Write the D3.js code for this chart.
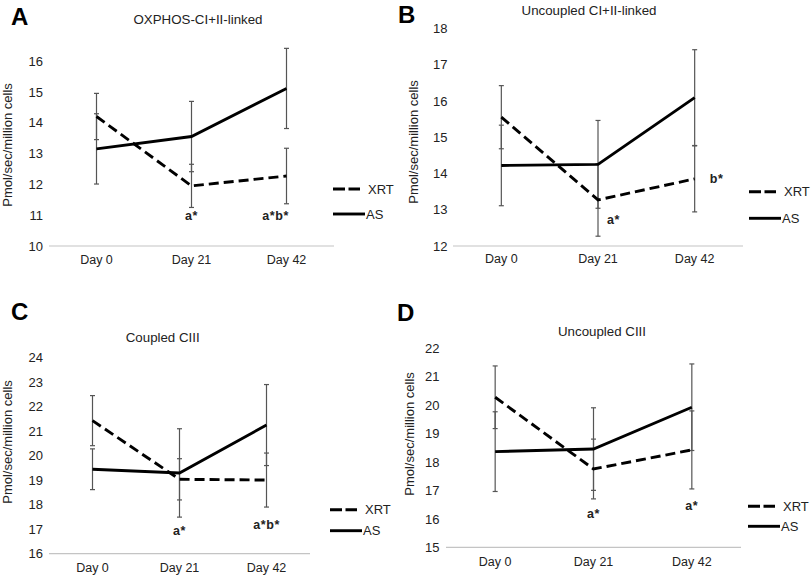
<!DOCTYPE html>
<html>
<head>
<meta charset="utf-8">
<script src="https://cdn.jsdelivr.net/npm/d3@7"></script>
<style>
  body { margin: 0; background: #fff; }
  svg { display: block; font-family: "Liberation Sans", Arial, sans-serif; }
</style>
</head>
<body>
<svg id="chart" width="812" height="576"></svg>
<script>
var days = ['Day 0', 'Day 21', 'Day 42'];

// panel A - OXPHOS CI+II
var xrtA = [14.2, 11.95, 12.27];
var xrtAErr = [0.75, 0.7, 0.9];
var asA = [13.15, 13.55, 15.11];
var asAErr = [1.14, 1.14, 1.3];

// panel B - uncoupled CI+II
var xrtB = [15.55, 13.27, 13.85];
var xrtBErr = [0.87, 1.0, 0.91];
var asB = [14.22, 14.25, 16.09];
var asBErr = [1.11, 1.21, 1.32];

// panel C - coupled CIII
var xrtC = [21.42, 19.03, 19.0];
var xrtCErr = [1.02, 0.84, 1.1];
var asC = [19.44, 19.29, 21.24];
var asCErr = [0.83, 1.8, 1.65];

// panel D - uncoupled CIII
var xrtD = [20.27, 17.75, 18.42];
var xrtDErr = [1.1, 1.05, 1.37];
var asD = [18.36, 18.45, 19.92];
var asDErr = [1.4, 1.45, 1.52];

var titles = ['OXPHOS-CI+II-linked', 'Uncoupled CI+II-linked', 'Coupled CIII', 'Uncoupled CIII'];
var letters = ['A', 'B', 'C', 'D'];
var yDomains = [[10, 16], [12, 18], [16, 24], [15, 22]];
var seriesNames = ['XRT', 'AS'];

// significance marks: day, value level, label
var notesA = [{day: 'Day 21', v: 11.0, t: 'a*'}, {day: 'Day 42', v: 11.0, t: 'a*b*'}];
var notesB = [{day: 'Day 21', v: 12.72, t: 'a*'}, {day: 'Day 42', v: 13.86, t: 'b*'}];
var notesC = [{day: 'Day 21', v: 16.94, t: 'a*'}, {day: 'Day 42', v: 17.17, t: 'a*b*'}];
var notesD = [{day: 'Day 21', v: 16.17, t: 'a*'}, {day: 'Day 42', v: 16.46, t: 'a*'}];

var panels = [
    {xrt: xrtA, xrtErr: xrtAErr, as: asA, asErr: asAErr, notes: notesA,
     x0: 49, x1: 334, yBot: 246, yTop: 61, tickX: 43, dayY: 264,
     ylab: [7, 145], title: [198, 23.5], letter: [11, 25],
     legX: 333, legY: [189, 214], noteDx: [0, -11]},
    {xrt: xrtB, xrtErr: xrtBErr, as: asB, asErr: asBErr, notes: notesB,
     x0: 453, x1: 743, yBot: 246, yTop: 28.3, tickX: 447.5, dayY: 262.5,
     ylab: [413, 142], title: [589, 15], letter: [398, 22.5],
     legX: 749, legY: [191.7, 218.3], noteDx: [16, 22]},
    {xrt: xrtC, xrtErr: xrtCErr, as: asC, asErr: asCErr, notes: notesC,
     x0: 49, x1: 310, yBot: 553.7, yTop: 357.3, tickX: 43, dayY: 572,
     ylab: [7, 442], title: [162.7, 341.5], letter: [11, 320],
     legX: 330, legY: [509.7, 530.7], noteDx: [0, 0]},
    {xrt: xrtD, xrtErr: xrtDErr, as: asD, asErr: asDErr, notes: notesD,
     x0: 446, x1: 741, yBot: 547.3, yTop: 348, tickX: 439.5, dayY: 565.5,
     ylab: [409, 434], title: [602, 335.5], letter: [397, 321],
     legX: 748, legY: [506.3, 526.3], noteDx: [0, 0]}
];

var svg = d3.select('#chart');

panels.forEach(function(p, i) {
    var g = svg.append('g');
    var x = d3.scalePoint().domain(days).range([p.x0, p.x1]).padding(0.5);
    var y = d3.scaleLinear().domain(yDomains[i]).range([p.yBot, p.yTop]);

    // baseline
    g.append('line')
        .attr('x1', p.x0).attr('x2', p.x1)
        .attr('y1', p.yBot).attr('y2', p.yBot)
        .attr('stroke', '#c4c4c4').attr('stroke-width', 1.2);

    // y tick labels
    g.selectAll('.ytick').data(y.ticks(yDomains[i][1] - yDomains[i][0]))
        .enter().append('text')
        .attr('x', p.tickX).attr('y', function(d) { return y(d); })
        .attr('dy', '0.36em')
        .attr('text-anchor', 'end')
        .attr('font-size', 13).attr('fill', '#222')
        .text(function(d) { return d; });

    // x labels
    g.selectAll('.xtick').data(days)
        .enter().append('text')
        .attr('x', function(d) { return x(d); }).attr('y', p.dayY)
        .attr('text-anchor', 'middle')
        .attr('font-size', 12.5).attr('fill', '#222')
        .text(function(d) { return d; });

    g.append('text')
        .attr('transform', 'translate(' + p.ylab[0] + ',' + p.ylab[1] + ') rotate(-90)')
        .attr('dy', '0.36em')
        .attr('text-anchor', 'middle')
        .attr('font-size', 13).attr('fill', '#222')
        .text('Pmol/sec/million cells');

    g.append('text')
        .attr('x', p.title[0]).attr('y', p.title[1])
        .attr('text-anchor', 'middle')
        .attr('font-size', 13.3).attr('fill', '#222')
        .text(titles[i]);

    g.append('text')
        .attr('x', p.letter[0]).attr('y', p.letter[1])
        .attr('font-size', 24).attr('font-weight', 'bold').attr('fill', '#000')
        .text(letters[i]);

    var series = [
        {vals: p.xrt, err: p.xrtErr, dash: '10,5'},
        {vals: p.as, err: p.asErr, dash: null}
    ];

    // error bars under the lines
    series.forEach(function(s) {
        days.forEach(function(d, k) {
            var cx = x(d), lo = y(s.vals[k] - s.err[k]), hi = y(s.vals[k] + s.err[k]);
            g.append('line').attr('x1', cx).attr('x2', cx).attr('y1', lo).attr('y2', hi)
                .attr('stroke', '#555').attr('stroke-width', 1.2);
            [lo, hi].forEach(function(yy) {
                g.append('line').attr('x1', cx - 2.5).attr('x2', cx + 2.5)
                    .attr('y1', yy).attr('y2', yy)
                    .attr('stroke', '#555').attr('stroke-width', 1.2);
            });
        });
    });

    var line = d3.line()
        .x(function(d, k) { return x(days[k]); })
        .y(function(d) { return y(d); });

    series.forEach(function(s) {
        g.append('path').datum(s.vals)
            .attr('d', line)
            .attr('fill', 'none').attr('stroke', '#000')
            .attr('stroke-width', 2.9)
            .attr('stroke-dasharray', s.dash);
    });

    // significance notes
    p.notes.forEach(function(n, k) {
        var right = p.noteDx[k] > 4;
        g.append('text')
            .attr('x', x(n.day) + p.noteDx[k] - (right ? 7 : 0)).attr('y', y(n.v))
            .attr('dy', '0.36em')
            .attr('text-anchor', right ? 'start' : 'middle')
            .attr('font-size', 12.5).attr('font-weight', 'bold').attr('fill', '#222')
            .attr('letter-spacing', 0.6)
            .text(n.t);
    });

    // legend
    series.forEach(function(s, k) {
        var ly = p.legY[k];
        g.append('line')
            .attr('x1', p.legX).attr('x2', p.legX + (k === 0 ? 27 : 32))
            .attr('y1', ly).attr('y2', ly)
            .attr('stroke', '#000').attr('stroke-width', 2.9)
            .attr('stroke-dasharray', k === 0 ? '12,3.5' : null);
        g.append('text')
            .attr('x', p.legX + (k === 0 ? 35 : 33)).attr('y', ly)
            .attr('dy', '0.36em')
            .attr('font-size', 13).attr('fill', '#222')
            .text(seriesNames[k]);
    });
});
</script>
</body>
</html>
